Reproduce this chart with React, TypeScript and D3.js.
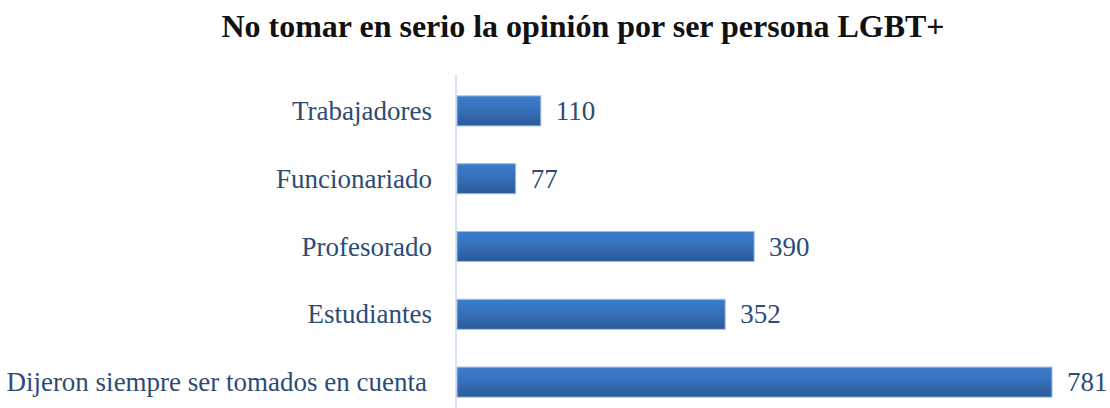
import React from "react";
import * as d3 from "d3";

const categories = [
  "Trabajadores",
  "Funcionariado",
  "Profesorado",
  "Estudiantes",
  "Dijeron siempre ser tomados en cuenta",
];
const values = [110, 77, 390, 352, 781];
const title = "No tomar en serio la opinión por ser persona LGBT+";

const W = 1110;
const H = 408;

export default function App() {
  const x = d3.scaleLinear().domain([0, 781]).range([457, 1052]);
  const y = d3
    .scaleBand<string>()
    .domain(categories)
    .range([77, 416])
    .paddingInner(0.557)
    .paddingOuter(0.2785);
  const labelColor = "#2d4b75";
  const font = "'Liberation Serif', 'Times New Roman', serif";

  return (
    <svg
      width={W}
      height={H}
      style={{ position: "fixed", left: 0, top: 0, background: "#fff" }}
    >
      <defs>
        <linearGradient id="barGrad" x1="0" y1="0" x2="0" y2="1">
          <stop offset="0%" stopColor="#3d7dcb" />
          <stop offset="45%" stopColor="#3670bb" />
          <stop offset="100%" stopColor="#2b5a98" />
        </linearGradient>
      </defs>
      <rect x={0} y={0} width={W} height={H} fill="#fff" />
      <text
        x={583}
        y={37}
        textAnchor="middle"
        fontFamily={font}
        fontWeight="bold"
        fontSize={32}
        fill="#111"
      >
        {title}
      </text>
      <line x1={x(0) - 1} x2={x(0) - 1} y1={75} y2={H} stroke="#c9d8ee" strokeWidth={1.5} />
      {categories.map((c, i) => {
        const yc = (y(c) as number) + y.bandwidth() / 2;
        return (
          <g key={c}>
            <rect
              x={x(0)}
              y={y(c)}
              width={x(values[i]) - x(0)}
              height={y.bandwidth()}
              fill="url(#barGrad)"
              stroke="#9dbde6"
              strokeWidth={1}
            />
            <text
              x={i === categories.length - 1 ? 427 : 432}
              y={yc + 9}
              textAnchor="end"
              fontFamily={font}
              fontSize={27}
              fill={labelColor}
            >
              {c}
            </text>
            <text
              x={x(values[i]) + 15}
              y={yc + 9}
              textAnchor="start"
              fontFamily={font}
              fontSize={27}
              fill={labelColor}
            >
              {values[i]}
            </text>
          </g>
        );
      })}
    </svg>
  );
}
